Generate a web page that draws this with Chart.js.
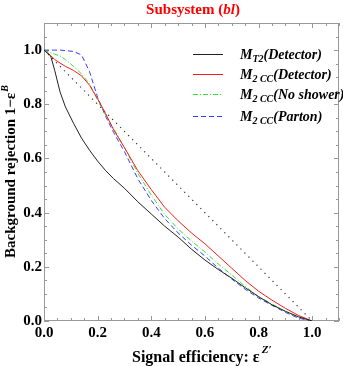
<!DOCTYPE html>
<html>
<head>
<meta charset="utf-8">
<script src="https://cdn.jsdelivr.net/npm/chart.js@4.4.1/dist/chart.umd.min.js"></script>
<style>
  body { margin: 0; background: #fff; }
</style>
</head>
<body>
<canvas id="chart" width="343" height="366"></canvas>
<script>
// signal efficiency (x) sampled for every curve
const effX = [0, 0.025, 0.04, 0.06, 0.08, 0.11, 0.14, 0.17, 0.2, 0.23, 0.26, 0.3, 0.35, 0.4, 0.45, 0.5, 0.55, 0.6, 0.65, 0.7, 0.75, 0.8, 0.85, 0.9, 0.95, 1.0];

// background rejection for each selection
const mt2Detector  = [1, 0.978, 0.925, 0.845, 0.79, 0.73, 0.675, 0.63, 0.59, 0.555, 0.525, 0.49, 0.44, 0.395, 0.35, 0.31, 0.265, 0.225, 0.19, 0.158, 0.123, 0.09, 0.06, 0.036, 0.015, 0];
const m2ccDetector = [1, 0.98, 0.965, 0.952, 0.94, 0.925, 0.905, 0.87, 0.82, 0.765, 0.705, 0.64, 0.555, 0.485, 0.42, 0.37, 0.325, 0.285, 0.24, 0.195, 0.15, 0.11, 0.077, 0.047, 0.02, 0];
const m2ccNoShower = [1, 0.99, 0.985, 0.978, 0.965, 0.94, 0.912, 0.875, 0.815, 0.76, 0.71, 0.64, 0.545, 0.465, 0.393, 0.34, 0.295, 0.255, 0.21, 0.17, 0.128, 0.09, 0.063, 0.035, 0.014, 0];
const m2ccParton   = [1, 1, 1, 1, 0.998, 0.995, 0.982, 0.92, 0.825, 0.755, 0.695, 0.625, 0.525, 0.445, 0.378, 0.325, 0.28, 0.24, 0.195, 0.155, 0.117, 0.085, 0.058, 0.032, 0.01, 0];

// random-guess diagonal
const diagX = [0, 1];
const diagY = [1, 0];

const tickValues = [0, 0.2, 0.4, 0.6, 0.8, 1.0];
const tickLabels = ['0.0', '0.2', '0.4', '0.6', '0.8', '1.0'];

const legendNames = [
    { main: 'M', sub: 'T2', rest: '(Detector)' },
    { main: 'M', sub: '2 CC', rest: '(Detector)' },
    { main: 'M', sub: '2 CC', rest: '(No shower)' },
    { main: 'M', sub: '2 CC', rest: '(Parton)' }
];

const SERIF = '"Liberation Serif", "DejaVu Serif", serif';

function pts(xs, ys) {
    return xs.map((x, i) => ({ x: x, y: ys[i] }));
}

function drawParts(ctx, parts, x, y, align) {
    let w = 0;
    parts.forEach(p => { ctx.font = p.font; w += ctx.measureText(p.text).width; });
    let cx = align === 'center' ? x - w / 2 : x;
    parts.forEach(p => {
        ctx.font = p.font;
        ctx.fillText(p.text, cx, y + (p.dy || 0));
        cx += ctx.measureText(p.text).width + (p.gap || 0);
    });
}

const framePlugin = {
    id: 'frame',
    beforeDatasetsDraw(chart) {
        const { ctx, chartArea: a, scales } = chart;
        ctx.save();
        ctx.strokeStyle = '#999';
        ctx.lineWidth = 1;
        ctx.strokeRect(a.left + 0.5, a.top + 0.5, a.right - a.left - 1, a.bottom - a.top - 1);
        ctx.beginPath();
        for (let i = 0; i <= 22; i++) {
            const v = i * 0.05;
            const len = i % 4 === 0 ? 5 : 3;
            const px = Math.round(scales.x.getPixelForValue(v)) + 0.5;
            ctx.moveTo(px, a.bottom); ctx.lineTo(px, a.bottom - len);
            ctx.moveTo(px, a.top); ctx.lineTo(px, a.top + len);
            const py = Math.round(scales.y.getPixelForValue(v)) + 0.5;
            ctx.moveTo(a.left, py); ctx.lineTo(a.left + len, py);
            ctx.moveTo(a.right, py); ctx.lineTo(a.right - len, py);
        }
        ctx.stroke();
        ctx.restore();
    },
    afterDraw(chart) {
        const ctx = chart.ctx;
        ctx.save();
        ctx.textAlign = 'left';
        ctx.textBaseline = 'alphabetic';

        // title
        ctx.fillStyle = '#ff0000';
        drawParts(ctx, [
            { text: 'Subsystem (', font: 'bold 15px ' + SERIF },
            { text: 'bl', font: 'bold italic 15px ' + SERIF },
            { text: ')', font: 'bold 15px ' + SERIF }
        ], 193, 14, 'center');

        // axis titles
        ctx.fillStyle = '#000';
        drawParts(ctx, [
            { text: 'Signal efficiency: \u03b5', font: 'bold 16px ' + SERIF, gap: 2 },
            { text: 'Z\u2032', font: 'bold italic 11px ' + SERIF, dy: -9 }
        ], 132, 362, 'left');

        ctx.save();
        ctx.translate(15, 172);
        ctx.rotate(-Math.PI / 2);
        drawParts(ctx, [
            { text: 'Background rejection 1\u2212\u03b5', font: 'bold 15px ' + SERIF, gap: 1 },
            { text: 'B', font: 'bold italic 10px ' + SERIF, dy: -7 }
        ], 0, 0, 'center');
        ctx.restore();

        // legend
        const rowY = [54, 74, 94, 116];
        chart.data.datasets.slice(0, 4).forEach((ds, i) => {
            const y = rowY[i] + 0.5;
            ctx.strokeStyle = ds.borderColor;
            ctx.lineWidth = 1;
            ctx.setLineDash(ds.borderDash || []);
            ctx.beginPath();
            ctx.moveTo(193, y); ctx.lineTo(223, y);
            ctx.stroke();
            ctx.setLineDash([]);
            const n = legendNames[i];
            ctx.fillStyle = '#000';
            drawParts(ctx, [
                { text: n.main, font: 'bold italic 14px ' + SERIF },
                { text: n.sub, font: 'bold italic 10px ' + SERIF, dy: 3 },
                { text: n.rest, font: 'bold italic 14px ' + SERIF }
            ], 240, rowY[i] + 5, 'left');
        });
        ctx.restore();
    }
};

new Chart(document.getElementById('chart'), {
    type: 'line',
    data: {
        datasets: [
            { label: 'MT2(Detector)', data: pts(effX, mt2Detector), borderColor: '#222', borderWidth: 1 },
            { label: 'M2CC(Detector)', data: pts(effX, m2ccDetector), borderColor: '#ff1a1a', borderWidth: 1 },
            { label: 'M2CC(No shower)', data: pts(effX, m2ccNoShower), borderColor: '#2ee62e', borderWidth: 1, borderDash: [5, 2, 1, 2] },
            { label: 'M2CC(Parton)', data: pts(effX, m2ccParton), borderColor: '#3a3aff', borderWidth: 1, borderDash: [5, 3] },
            { label: 'diagonal', data: pts(diagX, diagY), borderColor: '#333', borderWidth: 1.2, borderDash: [1.2, 4.5] }
        ]
    },
    options: {
        responsive: false,
        animation: false,
        devicePixelRatio: 1,
        elements: { point: { radius: 0 }, line: { tension: 0 } },
        layout: { padding: { left: 0, right: 4, top: 23, bottom: 0 } },
        plugins: { legend: { display: false }, title: { display: false }, tooltip: { enabled: false } },
        scales: {
            x: {
                type: 'linear',
                min: 0,
                max: 1.1,
                grid: { display: false, drawTicks: false },
                border: { display: false },
                afterBuildTicks: s => { s.ticks = tickValues.map(v => ({ value: v })); },
                afterFit: s => { s.height = 45; },
                ticks: {
                    padding: 3,
                    color: '#000',
                    font: { family: SERIF, size: 15, weight: 'bold' },
                    maxRotation: 0,
                    callback: (v, i) => tickLabels[i]
                }
            },
            y: {
                type: 'linear',
                min: 0,
                max: 1.1,
                grid: { display: false, drawTicks: false },
                border: { display: false },
                afterBuildTicks: s => { s.ticks = tickValues.map(v => ({ value: v })); },
                afterFit: s => { s.width = 44; },
                ticks: {
                    padding: 2,
                    color: '#000',
                    font: { family: SERIF, size: 15, weight: 'bold' },
                    callback: (v, i) => tickLabels[i]
                }
            }
        }
    },
    plugins: [framePlugin]
});
</script>
</body>
</html>
